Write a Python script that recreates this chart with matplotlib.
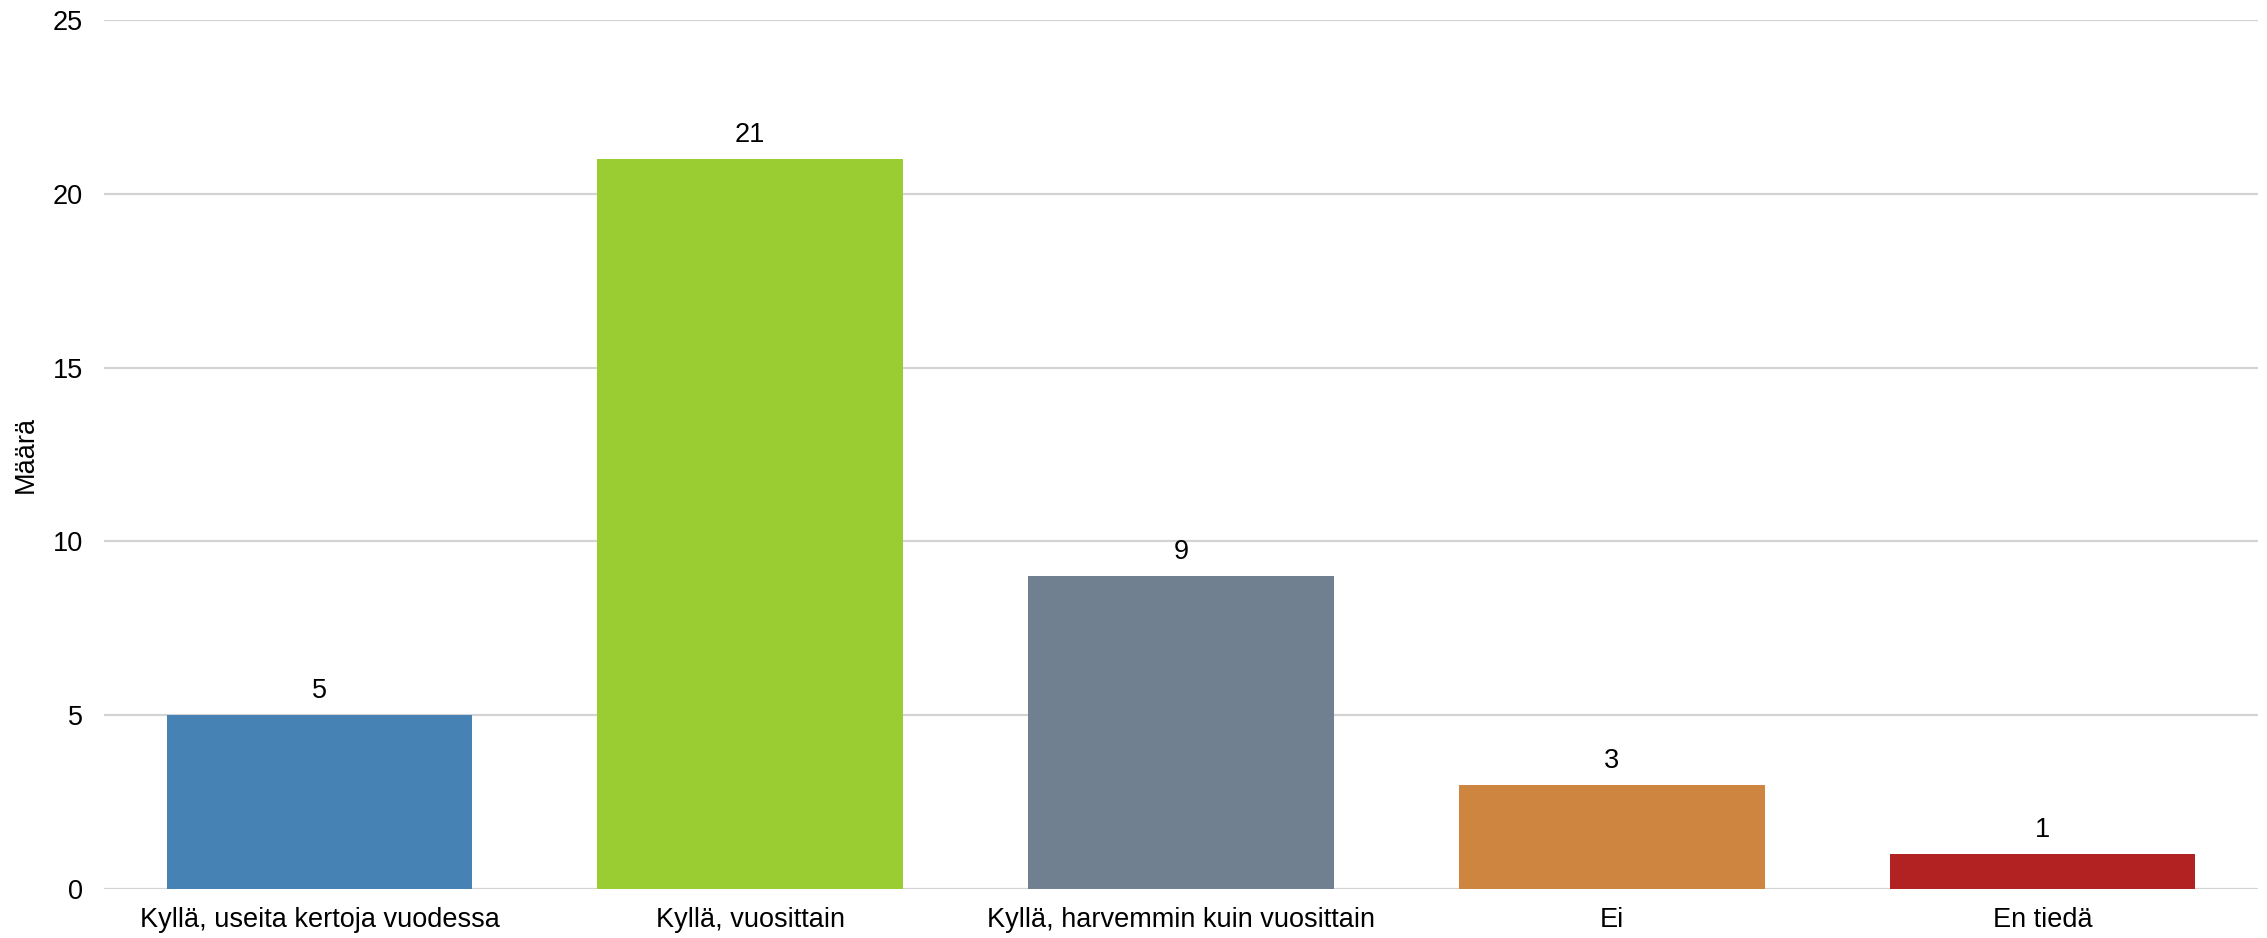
import numpy as np
import matplotlib.pyplot as plt

# Datos del gráfico
categorias = ["Kyllä, useita kertoja vuodessa", "Kyllä, vuosittain",
              "Kyllä, harvemmin kuin vuosittain", "Ei", "En tiedä"]
valores = [5, 21, 9, 3, 1]
colores = ["#4682B4", "#9ACD32", "#708090", "#CD853F", "#B22222"]
ticks_y = [0, 5, 10, 15, 20, 25]

plt.rcParams['font.family'] = ['Liberation Sans', 'DejaVu Sans']
tam = 19.5

fig = plt.figure(figsize=(22.67, 9.38), dpi=100)
ax = fig.add_axes([0.0459, 0.0522, 0.996 - 0.0459, 0.9787 - 0.0522])

x = np.arange(len(categorias))
barras = ax.bar(x, valores, width=0.71, color=colores, zorder=3)

# Etiquetas de valor encima de las barras
for b, v in zip(barras, valores):
    ax.annotate(str(v), (b.get_x() + b.get_width() / 2, v),
                xytext=(0, 8), textcoords='offset points',
                ha='center', va='bottom', fontsize=tam)

ax.set_xlim(-0.5, len(categorias) - 0.5)
ax.set_ylim(0, 25)
ax.set_yticks(ticks_y)
ax.set_xticks(x)
ax.set_xticklabels(categorias, fontsize=tam)
ax.tick_params(axis='y', labelsize=tam, length=0, pad=15)
ax.tick_params(axis='x', length=0, pad=13)
ax.set_ylabel('Määrä', fontsize=tam, va='center')
ax.yaxis.set_label_coords(-0.0362, 0.5)

ax.grid(axis='y', color='#d3d3d3', linewidth=1.6, zorder=0)
for s in ax.spines.values():
    s.set_visible(False)

plt.savefig('out.png', dpi=100)
